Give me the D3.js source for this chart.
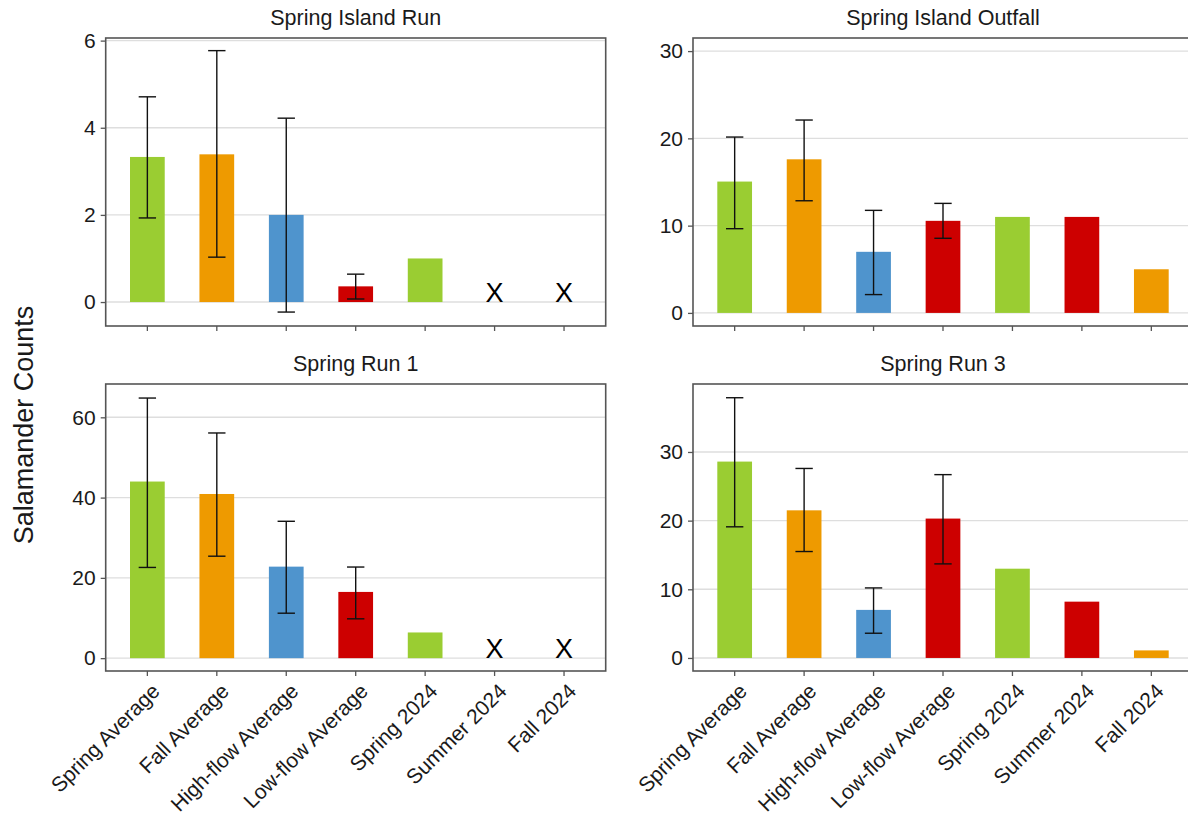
<!DOCTYPE html>
<html>
<head>
<meta charset="utf-8">
<script src="https://cdn.jsdelivr.net/npm/d3@7"></script>
<style>
  html, body { margin: 0; padding: 0; background: #fff; }
  svg { display: block; font-family: "Liberation Sans", Arial, sans-serif; }
</style>
</head>
<body>
<svg id="chart" width="1188" height="824"></svg>
<script>
// ---------------- data ----------------
const categories = ["Spring Average", "Fall Average", "High-flow Average", "Low-flow Average", "Spring 2024", "Summer 2024", "Fall 2024"];
const barColors = ["#9ACD32", "#EE9A00", "#4F94CD", "#CD0000", "#9ACD32", "#CD0000", "#EE9A00"];
const panelTitles = ["Spring Island Run", "Spring Island Outfall", "Spring Run 1", "Spring Run 3"];

// Spring Island Run
const islandRunMean = [3.33, 3.39, 2.0, 0.36, 1.0, null, null];
const islandRunLow  = [1.93, 1.03, -0.23, 0.07, null, null, null];
const islandRunHigh = [4.71, 5.77, 4.22, 0.64, null, null, null];
const islandRunTicks = [0, 2, 4, 6];

// Spring Island Outfall
const outfallMean = [15.05, 17.6, 7.0, 10.55, 11, 11, 5];
const outfallLow  = [9.65, 12.85, 2.1, 8.55, null, null, null];
const outfallHigh = [20.15, 22.1, 11.75, 12.55, null, null, null];
const outfallTicks = [0, 10, 20, 30];

// Spring Run 1
const run1Mean = [44.0, 40.9, 22.8, 16.5, 6.4, null, null];
const run1Low  = [22.6, 25.4, 11.2, 9.8, null, null, null];
const run1High = [64.8, 56.1, 34.1, 22.7, null, null, null];
const run1Ticks = [0, 20, 40, 60];

// Spring Run 3
const run3Mean = [28.6, 21.5, 7.0, 20.3, 13, 8.2, 1.1];
const run3Low  = [19.1, 15.5, 3.6, 13.7, null, null, null];
const run3High = [37.9, 27.6, 10.2, 26.7, null, null, null];
const run3Ticks = [0, 10, 20, 30];

// categories with no sample are marked with "X"
const missingMarks = [
  [false, false, false, false, false, true, true],
  [false, false, false, false, false, false, false],
  [false, false, false, false, false, true, true],
  [false, false, false, false, false, false, false]
];

const yDomains = [[-0.55, 6.06], [-1.5, 31.5], [-3.2, 68.3], [-1.9, 39.9]];

const panelsData = [
  { title: panelTitles[0], mean: islandRunMean, low: islandRunLow, high: islandRunHigh, ticks: islandRunTicks },
  { title: panelTitles[1], mean: outfallMean, low: outfallLow, high: outfallHigh, ticks: outfallTicks },
  { title: panelTitles[2], mean: run1Mean, low: run1Low, high: run1High, ticks: run1Ticks },
  { title: panelTitles[3], mean: run3Mean, low: run3Low, high: run3High, ticks: run3Ticks }
];

// ---------------- layout ----------------
const svg = d3.select("#chart");
const panelW = 500;
const panelLefts = [105.7, 693, 105.7, 693];
const panelTops = [38, 38, 384, 384];
const panelHs = [288, 288, 287, 287];

const borderColor = "#555555";
const gridColor = "#dedede";
const textColor = "#1a1a1a";

panelsData.forEach((p, i) => {
  const W = panelW, H = panelHs[i];
  const g = svg.append("g").attr("transform", `translate(${panelLefts[i]},${panelTops[i]})`);

  const x = d3.scaleBand().domain(categories).range([0, W])
    .paddingInner(0.5).paddingOuter(0.35);
  const y = d3.scaleLinear().domain(yDomains[i]).range([H, 0]);

  // gridlines
  g.append("g").selectAll("line").data(p.ticks).join("line")
    .attr("x1", 0).attr("x2", W)
    .attr("y1", d => y(d)).attr("y2", d => y(d))
    .attr("stroke", gridColor).attr("stroke-width", 1.4);

  // bars
  const rows = categories.map((c, k) => ({ c, k, v: p.mean[k], lo: p.low[k], hi: p.high[k] }));
  g.append("g").selectAll("rect").data(rows.filter(r => r.v != null)).join("rect")
    .attr("x", r => x(r.c)).attr("width", x.bandwidth())
    .attr("y", r => y(r.v)).attr("height", r => y(0) - y(r.v))
    .attr("fill", r => barColors[r.k]);

  // error bars
  const capW = x.bandwidth() * 0.5;
  const eb = g.append("g").selectAll("g").data(rows.filter(r => r.lo != null)).join("g")
    .attr("stroke", "#111").attr("stroke-width", 1.4);
  eb.append("line")
    .attr("x1", r => x(r.c) + x.bandwidth() / 2).attr("x2", r => x(r.c) + x.bandwidth() / 2)
    .attr("y1", r => y(r.lo)).attr("y2", r => y(r.hi));
  eb.append("line")
    .attr("x1", r => x(r.c) + x.bandwidth() / 2 - capW / 2).attr("x2", r => x(r.c) + x.bandwidth() / 2 + capW / 2)
    .attr("y1", r => y(r.hi)).attr("y2", r => y(r.hi));
  eb.append("line")
    .attr("x1", r => x(r.c) + x.bandwidth() / 2 - capW / 2).attr("x2", r => x(r.c) + x.bandwidth() / 2 + capW / 2)
    .attr("y1", r => y(r.lo)).attr("y2", r => y(r.lo));

  // X marks for missing samples
  g.append("g").selectAll("text").data(rows.filter(r => missingMarks[i][r.k])).join("text")
    .attr("x", r => x(r.c) + x.bandwidth() / 2)
    .attr("y", y(0) - 0.5)
    .attr("text-anchor", "middle")
    .attr("font-size", 27)
    .attr("fill", "#000")
    .text("X");

  // panel border
  g.append("rect").attr("x", 0).attr("y", 0).attr("width", W).attr("height", H)
    .attr("fill", "none").attr("stroke", borderColor).attr("stroke-width", 1.6);

  // y axis
  const ya = g.append("g").call(d3.axisLeft(y).tickValues(p.ticks).tickSize(5).tickPadding(5).tickFormat(d3.format("d")));
  ya.select(".domain").remove();
  ya.selectAll(".tick line").attr("stroke", borderColor).attr("stroke-width", 1.3);
  ya.selectAll(".tick text").attr("font-size", 21).attr("fill", textColor)
    .attr("font-family", "'Liberation Sans', Arial, sans-serif");

  // x axis
  const xa = g.append("g").attr("transform", `translate(0,${H})`)
    .call(d3.axisBottom(x).tickSize(5).tickPadding(4));
  xa.select(".domain").remove();
  xa.selectAll(".tick line").attr("stroke", borderColor).attr("stroke-width", 1.3);
  if (i >= 2) {
    xa.selectAll(".tick text")
      .attr("font-size", 21).attr("fill", textColor)
      .attr("font-family", "'Liberation Sans', Arial, sans-serif")
      .attr("text-anchor", "end")
      .attr("transform", "translate(3,11) rotate(-45)")
      .attr("x", 0).attr("y", 0).attr("dy", "0.71em");
  } else {
    xa.selectAll(".tick text").remove();
  }

  // title
  g.append("text").attr("x", W / 2).attr("y", -13)
    .attr("text-anchor", "middle").attr("font-size", 21.5).attr("fill", textColor)
    .text(p.title);
});

// y axis title
svg.append("text")
  .attr("transform", "translate(33,425) rotate(-90)")
  .attr("text-anchor", "middle")
  .attr("font-size", 27)
  .attr("fill", textColor)
  .text("Salamander Counts");
</script>
</body>
</html>
